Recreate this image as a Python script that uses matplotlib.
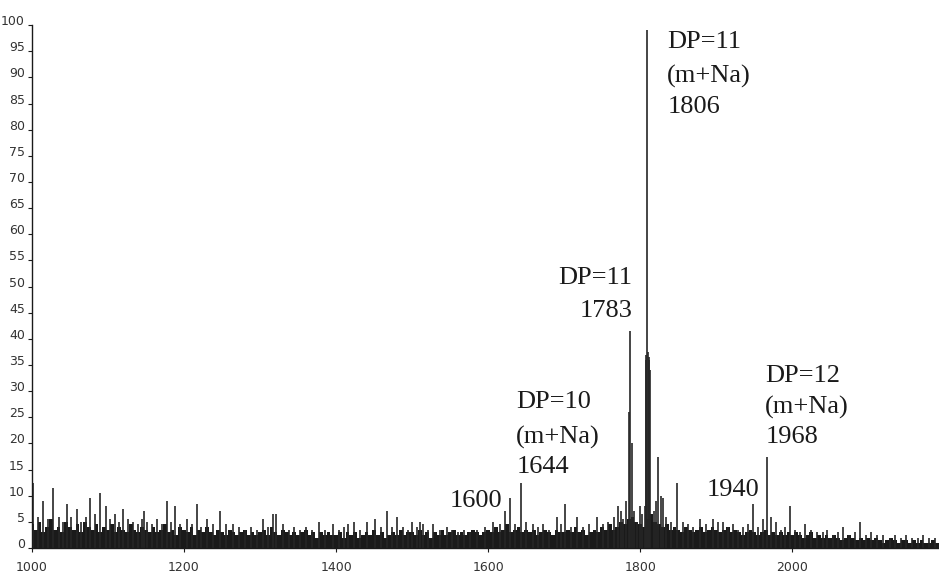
import numpy as np
import matplotlib
matplotlib.use('Agg')
import matplotlib.pyplot as plt

# dense baseline (solid black floor), one value every 5 m/z from 1000
base_start, base_step = 1000, 5
base_int = [
    4.5, 3.5, 5.0, 3.0, 4.0, 5.5, 3.5, 4.0, 3.0, 5.0, 4.0, 3.5, 4.5, 3.0, 5.0, 4.0, 3.5, 4.5, 3.0, 4.0,
    3.5, 4.5, 3.0, 4.0, 3.5, 3.0, 4.5, 3.5, 3.0, 4.0, 3.5, 3.0, 4.0, 3.0, 3.5, 4.5, 3.0, 3.5, 2.5, 4.0,
    3.5, 3.0, 4.0, 2.5, 3.5, 3.0, 4.0, 3.0, 2.5, 3.5, 3.0, 2.5, 3.5, 3.0, 2.5, 3.0, 3.5, 2.5, 3.0, 2.5,
    3.0, 3.5, 2.5, 4.0, 3.0, 2.5, 3.5, 3.0, 2.5, 3.0, 2.5, 3.0, 3.5, 2.5, 3.0, 2.0, 3.0, 2.5, 3.0, 2.5,
    2.5, 3.0, 2.0, 3.0, 2.5, 3.0, 2.0, 2.5, 3.0, 2.5, 3.5, 2.5, 3.0, 2.0, 2.5, 3.0, 2.5, 3.5, 2.5, 3.0,
    3.0, 2.5, 3.5, 2.5, 3.0, 2.0, 3.0, 2.5, 3.5, 2.5, 3.0, 3.5, 2.5, 3.0, 2.5, 3.0, 3.5, 3.0, 2.5, 3.0,
    3.5, 3.0, 4.0, 3.0, 3.5, 4.5, 3.0, 3.5, 4.0, 3.0, 3.5, 3.0, 3.5, 2.5, 3.0, 3.5, 3.0, 2.5, 3.5, 3.0,
    3.0, 3.5, 3.0, 4.0, 3.0, 3.5, 2.5, 3.0, 3.5, 3.0, 4.0, 3.5, 4.5, 3.5, 4.0, 5.0, 4.5, 5.5, 6.0, 5.0,
    4.5, 4.0, 5.5, 6.5, 5.0, 4.5, 4.0, 4.5, 3.5, 4.0, 3.5, 3.0, 4.0, 3.5, 3.0, 3.5, 4.0, 3.0, 3.5, 4.0,
    3.5, 3.0, 3.5, 4.0, 3.0, 3.5, 3.0, 2.5, 3.0, 3.5, 3.0, 2.5, 3.0, 3.5, 2.5, 3.0, 2.5, 3.0, 2.5, 3.0,
    2.5, 3.0, 2.5, 2.0, 2.5, 3.0, 2.0, 2.5, 2.0, 2.5, 2.0, 2.5, 2.0, 1.5, 2.0, 2.5, 2.0, 1.5, 2.0, 1.5,
    2.0, 1.5, 2.0, 1.5, 1.0, 1.5, 2.0, 1.5, 1.0, 1.5, 1.5, 1.0, 1.5, 1.0, 1.5, 1.0, 1.0, 1.5, 1.0, 1.0,
]

# individual peaks (m/z, relative intensity %)
peak_mz = [
    1002, 1008, 1015, 1021, 1028, 1035, 1041, 1046, 1052, 1059, 1064, 1071, 1076, 1083, 1089, 1097,
    1103, 1109, 1115, 1120, 1127, 1133, 1139, 1145, 1148, 1152, 1158, 1165, 1171, 1177, 1183, 1188,
    1195, 1204, 1210, 1217, 1223, 1230, 1238, 1247, 1255, 1265, 1272, 1280, 1288, 1296, 1304, 1310,
    1317, 1321, 1330, 1338, 1345, 1352, 1360, 1368, 1377, 1385, 1396, 1404, 1410, 1416, 1423, 1431,
    1441, 1451, 1459, 1467, 1474, 1480, 1488, 1494, 1500, 1506, 1510, 1514, 1521, 1528, 1537, 1546,
    1553, 1560, 1568, 1576, 1586, 1596, 1607, 1615, 1622, 1629, 1636, 1643, 1650, 1659, 1665, 1672,
    1680, 1691, 1696, 1701, 1709, 1717, 1725, 1733, 1743, 1751, 1758, 1765, 1771, 1775, 1778, 1781,
    1785, 1787, 1789, 1792, 1796, 1800, 1803, 1806, 1807, 1808, 1809, 1810, 1811, 1812, 1813, 1818,
    1821, 1824, 1827, 1830, 1834, 1840, 1849, 1856, 1863, 1870, 1879, 1886, 1896, 1902, 1909, 1916,
    1922, 1928, 1935, 1942, 1949, 1955, 1962, 1967, 1972, 1978, 1985, 1991, 1997, 2003, 2010, 2017,
    2025, 2033, 2040, 2046, 2053, 2060, 2067, 2075, 2082, 2089, 2097, 2104, 2112, 2120, 2128, 2135,
    2143, 2150, 2158, 2165, 2172, 2180, 2188,
]
peak_int = [
    12.5, 6.0, 9.0, 5.5, 11.5, 6.0, 5.0, 8.5, 6.0, 7.5, 5.0, 6.0, 9.5, 6.5, 10.5, 8.0,
    5.5, 6.5, 5.0, 7.5, 5.5, 5.0, 4.5, 5.5, 7.0, 5.0, 4.5, 5.5, 4.5, 9.0, 5.0, 8.0,
    4.5, 5.5, 4.5, 8.5, 4.0, 5.5, 4.5, 7.0, 4.5, 4.5, 4.0, 3.5, 4.0, 3.5, 5.5, 4.0,
    6.5, 6.5, 4.5, 3.5, 4.0, 3.5, 4.0, 3.5, 5.0, 3.5, 4.5, 3.5, 4.0, 4.5, 5.0, 3.5,
    5.0, 5.5, 4.0, 7.0, 4.0, 6.0, 4.0, 3.5, 5.0, 4.0, 5.0, 4.5, 3.5, 4.5, 3.5, 4.0,
    3.5, 3.0, 3.5, 3.0, 3.5, 4.0, 5.0, 4.5, 7.0, 9.5, 4.5, 12.5, 5.0, 4.5, 4.0, 4.5,
    3.5, 6.0, 4.5, 8.5, 4.0, 6.0, 4.0, 4.5, 6.0, 4.5, 5.0, 6.0, 8.0, 7.0, 5.5, 9.0,
    26.0, 41.5, 20.0, 7.0, 5.0, 8.0, 6.5, 8.0, 36.0, 37.0, 99.0, 37.5, 36.0, 36.5, 34.0, 7.0,
    9.0, 17.5, 10.0, 9.5, 6.0, 5.0, 12.5, 5.0, 4.5, 4.0, 5.5, 4.5, 5.5, 5.0, 5.0, 4.0,
    4.5, 3.5, 4.0, 4.5, 8.5, 4.0, 5.5, 17.5, 6.0, 5.0, 3.5, 4.0, 8.0, 3.5, 3.0, 4.5,
    3.5, 3.0, 3.0, 3.5, 2.5, 3.0, 4.0, 2.5, 3.0, 5.0, 2.5, 3.0, 2.5, 2.5, 2.0, 2.5,
    2.0, 2.5, 2.0, 2.0, 2.5, 2.0, 2.0,
]

# annotations: text, m/z, intensity, alignment
ann_text = ['DP=11', '(m+Na)', '1806', 'DP=11', '1783', 'DP=10', '(m+Na)', '1644',
            '1600', '1940', 'DP=12', '(m+Na)', '1968']
ann_x = [1835.5, 1835.5, 1835.5, 1789.5, 1789.5, 1637, 1637, 1637,
         1618.4, 1956.6, 1964.5, 1964.5, 1964.5]
ann_y = [96.7, 90.1, 84.3, 51.6, 45.3, 27.9, 21.2, 15.5,
         9.0, 11.1, 32.9, 26.8, 21.2]
ann_ha = ['left', 'left', 'left', 'right', 'right', 'left', 'left', 'left',
          'right', 'right', 'left', 'left', 'left']

y_ticks = list(range(0, 101, 5))
x_ticks = [1000, 1200, 1400, 1600, 1800, 2000]

ink = '#1a1a1a'
tickfont = ['Liberation Sans Narrow', 'DejaVu Sans']

fig = plt.figure(figsize=(9.39, 5.79), dpi=100)
ax = fig.add_axes([0.034, 0.0535, 0.966, 0.903])

base_mz = base_start + base_step * np.arange(len(base_int))
ax.fill_between(base_mz, 0, base_int, step='mid', color=ink, lw=0)
ax.vlines(peak_mz, 0, peak_int, colors='#262626', lw=1.2)

for t, x, y, ha in zip(ann_text, ann_x, ann_y, ann_ha):
    ax.text(x, y, t, ha=ha, va='center', fontsize=19, color='#1a1a1a',
            family=['Liberation Serif', 'DejaVu Serif'])

ax.set_xlim(1000, 2193)
ax.set_ylim(0, 100)
for s in ['top', 'right']:
    ax.spines[s].set_visible(False)
ax.spines['left'].set_linewidth(1.0)
ax.spines['bottom'].set_linewidth(1.0)
ax.spines['left'].set_color(ink)
ax.spines['bottom'].set_color(ink)

ax.set_yticks(y_ticks)
ax.set_yticklabels([str(v) for v in y_ticks], va='baseline',
                   family=tickfont, fontsize=9, color='#333333')
ax.set_xticks(x_ticks)
ax.set_xticklabels([str(v) for v in x_ticks],
                   family=tickfont, fontsize=9, color='#333333')
ax.tick_params(axis='y', length=3, width=0.8, pad=2, color=ink)
ax.tick_params(axis='x', length=3, width=0.8, pad=6, color=ink)

fig.savefig('out.png', dpi=100)
